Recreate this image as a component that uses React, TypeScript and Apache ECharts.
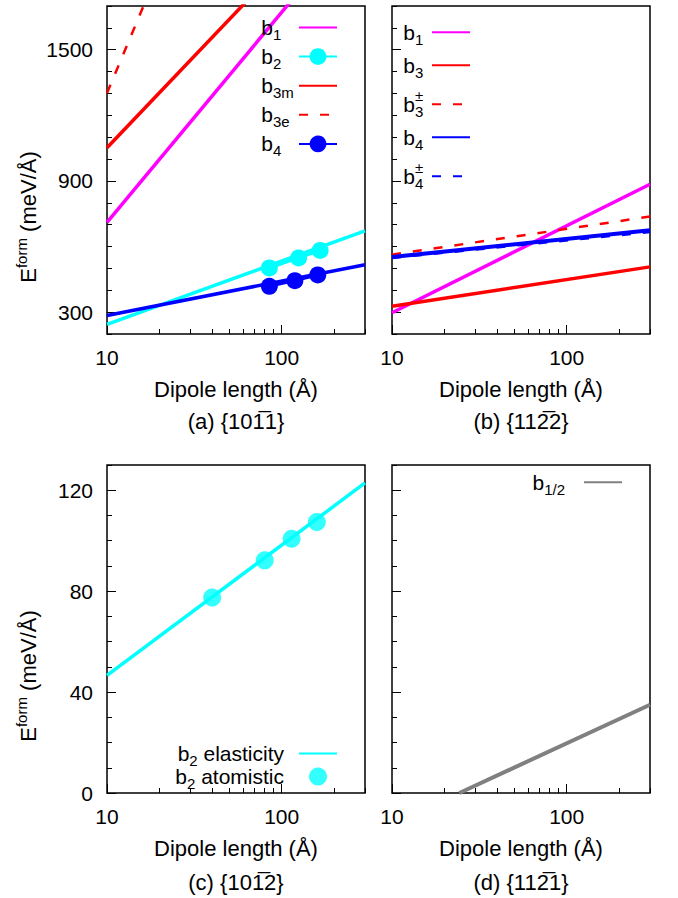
import React, { useEffect, useRef } from 'react';
import * as echarts from 'echarts';

// ---------- data ----------
// dipole length extent (Å)
const xMinLen = 10;
const xMaxLen = 300;
const lineEndsX = [10, 300];

// (a) {10-11}  formation energy (meV/Å)
const aB1 = [710, 2130];
const aB3m = [1052, 2290];
const aB3e = [1302, 4114];
const aB2Fit = [244, 672];
const aB4Fit = [285, 517];
const aB2PtsX = [85, 125, 166];
const aB2PtsY = [502, 548, 582];
const aB4PtsX = [85, 119, 161];
const aB4PtsY = [418, 444, 470];

// (b) {11-22}
const bB1 = [297, 885];
const bB3 = [327, 507];
const bB3pm = [563, 737];
const bB4 = [552, 674];
const bB4pm = [548, 666];

// (c) {10-12}
const cB2Fit = [46.6, 122.9];
const cB2PtsX = [40, 80, 114, 159];
const cB2PtsY = [77.5, 92.2, 100.8, 107.4];

// (d) {11-21}
const dB12X = [24.3, 300];
const dB12Y = [0, 35];

// ticks
const xMajorTicks = [10, 100];
const xMinorTicks = [20, 30, 40, 50, 60, 70, 80, 90, 200, 300];
const yTopRange = [200, 1700];
const yTopMajor = [300, 900, 1500];
const yTopMinor = [200, 400, 500, 600, 700, 800, 1000, 1100, 1200, 1300, 1400, 1600, 1700];
const yBotRange = [0, 130];
const yBotMajor = [0, 40, 80, 120];
const yBotMinor = [10, 20, 30, 50, 60, 70, 90, 100, 110, 130];

const subtitles = ['(a) {101\u03051}', '(b) {112\u03052}', '(c) {101\u03052}', '(d) {112\u03051}'];
const xName = 'Dipole length (Å)';

// ---------- layout ----------
const FONT = '"Liberation Sans", Arial, Helvetica, sans-serif';
const grids = [
  { left: 107, top: 6, width: 258, height: 328 },
  { left: 392, top: 6, width: 258, height: 328 },
  { left: 107, top: 465, width: 258, height: 328 },
  { left: 392, top: 465, width: 258, height: 328 },
];

const pair = (xs: number[], ys: number[]) => xs.map((x, i) => [x, ys[i]]);

const tok = (fontSize: number, extra: any = {}) => ({ fontSize, fontFamily: FONT, color: '#000', align: 'left', ...extra });
const rich: any = {
  b: tok(21),
  t: tok(21, { padding: [0, 10, 0, 0] }),
  sa: tok(15, { padding: [14, 0, 0, 0], width: 21 }),
  sb: tok(15, { padding: [14, 0, 0, 0], width: 12 }),
  s0: tok(15, { padding: [14, 0, 0, 0], width: 0 }),
  p: tok(15, { padding: [0, 0, 18, 0], width: 12 }),
  sc: tok(15, { padding: [14, 0, 0, 0] }),
  sd: tok(15, { padding: [14, 14, 0, 0] }),
  e: tok(22),
  sup: tok(15, { padding: [0, 0, 14, 0] }),
};

const legendText: Record<string, string> = {
  a_b1: '{b|b}{sa|1}',
  a_b2: '{b|b}{sa|2}',
  a_b3m: '{b|b}{sa|3m}',
  a_b3e: '{b|b}{sa|3e}',
  a_b4: '{b|b}{sa|4}',
  b_b1: '{b|b}{sb|1}',
  b_b3: '{b|b}{sb|3}',
  b_b3pm: '{b|b}{s0|3}{p|±}',
  b_b4: '{b|b}{sb|4}',
  b_b4pm: '{b|b}{s0|4}{p|±}',
  c_el: '{b|b}{sc|2}{t| elasticity}',
  c_at: '{b|b}{sc|2}{t| atomistic}',
  d_b12: '{b|b}{sd|1/2}',
};
// legend entries whose sample is a plain line (no marker)
const plainLineKeys = ['a_b1', 'a_b3m', 'a_b3e', 'b_b1', 'b_b3', 'b_b3pm', 'b_b4', 'b_b4pm', 'c_el', 'd_b12'];

const tickFmt = (v: number) => String(v);

function xAxes(p: number) {
  const base = {
    type: 'log',
    logBase: 10,
    min: xMinLen,
    max: xMaxLen,
    gridIndex: p,
    position: 'bottom',
    axisLine: { show: false },
    splitLine: { show: false },
    minorTick: { show: false },
  };
  return [
    {
      ...base,
      axisTick: { show: true, inside: true, length: 9, customValues: xMajorTicks, lineStyle: { color: '#000', width: 1 } },
      axisLabel: { show: true, customValues: xMajorTicks, formatter: tickFmt, margin: 13, color: '#000', fontSize: 21, fontFamily: FONT },
      name: xName,
      nameLocation: 'middle',
      nameGap: 44,
      nameTextStyle: { color: '#000', fontSize: 22, fontFamily: FONT },
    },
    {
      ...base,
      axisTick: { show: true, inside: true, length: 5, customValues: xMinorTicks, lineStyle: { color: '#000', width: 1 } },
      axisLabel: { show: false },
    },
  ];
}

function yAxes(p: number) {
  const top = p < 2;
  const range = top ? yTopRange : yBotRange;
  const major = top ? yTopMajor : yBotMajor;
  const minor = top ? yTopMinor : yBotMinor;
  const base = {
    type: 'value',
    min: range[0],
    max: range[1],
    gridIndex: p,
    position: 'left',
    axisLine: { show: false },
    splitLine: { show: false },
  };
  return [
    {
      ...base,
      axisTick: { show: true, inside: true, length: 9, customValues: major, lineStyle: { color: '#000', width: 1 } },
      axisLabel: { show: p % 2 === 0, customValues: major, formatter: tickFmt, margin: 14, color: '#000', fontSize: 21, fontFamily: FONT },
    },
    {
      ...base,
      axisTick: { show: true, inside: true, length: 5, customValues: minor, lineStyle: { color: '#000', width: 1 } },
      axisLabel: { show: false },
    },
  ];
}

function lineSeries(name: string, p: number, data: number[][], color: string, opts: any = {}) {
  return {
    name,
    type: 'line',
    xAxisIndex: 2 * p,
    yAxisIndex: 2 * p,
    data,
    symbol: opts.symbol ?? 'none',
    symbolSize: opts.symbolSize ?? 0,
    showSymbol: opts.symbol ? true : false,
    clip: true,
    lineStyle: { color, width: opts.width ?? 3.5, type: opts.dash ?? 'solid' },
    itemStyle: { color },
    z: opts.z ?? 2,
  };
}

function legendBlock(names: string[], right: number, top: number, gap: number, itemH: number) {
  return {
    data: names.map((n) => (plainLineKeys.includes(n) ? { name: n, itemStyle: { opacity: 0 } } : { name: n })),
    orient: 'vertical',
    align: 'right',
    right,
    top,
    padding: 0,
    itemGap: gap,
    itemWidth: 38,
    itemHeight: itemH,
    selectedMode: false,
    formatter: (n: string) => legendText[n] ?? n,
    textStyle: { color: '#000', fontSize: 21, fontFamily: FONT, rich },
  };
}

const MAG = '#ff00ff';
const CYAN = '#00ffff';
const RED = '#ff0000';
const BLUE = '#0000ff';
const GRAY = '#808080';
const DASH = [9, 12];

const option: any = {
  animation: false,
  backgroundColor: '#fff',
  grid: grids.map((g) => ({ ...g, show: true, borderColor: '#000', borderWidth: 1.5, backgroundColor: 'transparent', containLabel: false })),
  xAxis: [0, 1, 2, 3].flatMap((p) => xAxes(p)),
  yAxis: [0, 1, 2, 3].flatMap((p) => yAxes(p)),
  legend: [
    legendBlock(['a_b1', 'a_b2', 'a_b3m', 'a_b3e', 'a_b4'], 340, 17, 4.1, 21),
    legendBlock(['b_b1', 'b_b3', 'b_b3pm', 'b_b4', 'b_b4pm'], 207, 21.7, 8, 21),
    legendBlock(['c_el', 'c_at'], 340, 743, -2, 18),
    legendBlock(['d_b12'], 55, 471.7, 0, 18),
  ],
  series: [
    // (a)
    lineSeries('a_b1', 0, pair(lineEndsX, aB1), MAG),
    lineSeries('a_b2_fit', 0, pair(lineEndsX, aB2Fit), CYAN),
    lineSeries('a_b2', 0, pair(aB2PtsX, aB2PtsY), CYAN, { symbol: 'circle', symbolSize: 17, z: 3, width: 3 }),
    lineSeries('a_b3m', 0, pair(lineEndsX, aB3m), RED),
    lineSeries('a_b3e', 0, pair(lineEndsX, aB3e), RED, { dash: DASH, width: 2.5 }),
    lineSeries('a_b4_fit', 0, pair(lineEndsX, aB4Fit), BLUE),
    lineSeries('a_b4', 0, pair(aB4PtsX, aB4PtsY), BLUE, { symbol: 'circle', symbolSize: 17, z: 3, width: 3 }),
    // (b)
    lineSeries('b_b1', 1, pair(lineEndsX, bB1), MAG),
    lineSeries('b_b3', 1, pair(lineEndsX, bB3), RED),
    lineSeries('b_b3pm', 1, pair(lineEndsX, bB3pm), RED, { dash: DASH, width: 2.5 }),
    lineSeries('b_b4', 1, pair(lineEndsX, bB4), BLUE, { width: 4 }),
    lineSeries('b_b4pm', 1, pair(lineEndsX, bB4pm), BLUE, { dash: DASH, width: 2.5 }),
    // (c)
    lineSeries('c_el', 2, pair(lineEndsX, cB2Fit), CYAN),
    {
      name: 'c_at',
      type: 'scatter',
      xAxisIndex: 4,
      yAxisIndex: 4,
      data: pair(cB2PtsX, cB2PtsY),
      symbol: 'circle',
      symbolSize: 18,
      itemStyle: { color: CYAN },
      z: 3,
    },
    // (d)
    lineSeries('d_b12', 3, pair(dB12X, dB12Y), GRAY, { width: 4 }),
  ],
  graphic: [
    ...[217, 676].map((cy) => ({
      type: 'text',
      x: 28,
      y: cy,
      rotation: Math.PI / 2,
      style: {
        text: '{e|E}{sup|form}{e| (meV/Å)}',
        rich,
        align: 'center',
        verticalAlign: 'middle',
        fill: '#000',
      },
    })),
    ...subtitles.map((s, i) => ({
      type: 'text',
      x: i % 2 === 0 ? 236 : 521,
      y: i < 2 ? 421 : 882,
      style: {
        text: s,
        font: `22px ${FONT}`,
        align: 'center',
        verticalAlign: 'middle',
        fill: '#000',
      },
    })),
  ],
};

export default function App() {
  const ref = useRef<HTMLDivElement>(null);
  useEffect(() => {
    if (!ref.current) return;
    const chart = echarts.init(ref.current, null, { renderer: 'svg' });
    chart.setOption(option);
    return () => chart.dispose();
  }, []);
  return (
    <div
      ref={ref}
      style={{ position: 'fixed', left: 0, top: 0, width: 678, height: 898, background: '#fff' }}
    />
  );
}
